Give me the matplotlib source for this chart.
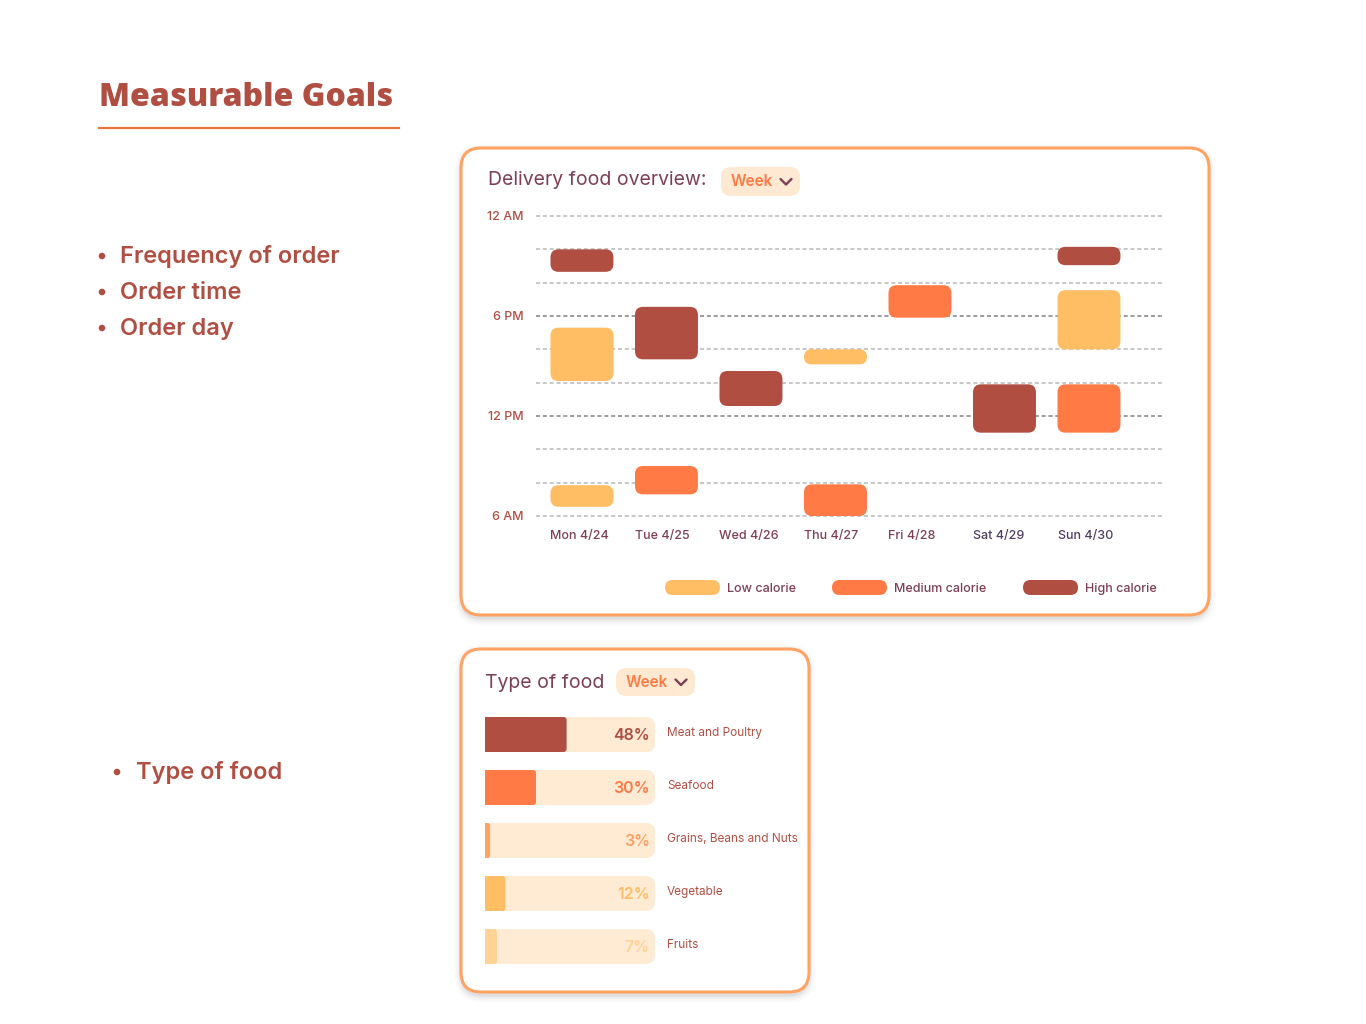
import matplotlib.pyplot as plt
from matplotlib.patches import FancyBboxPatch, Rectangle, Circle

W, H = 1366, 1024

RED = "#B04E42"
ORANGE = "#FF7A45"
YELLOW = "#FFBE64"
PLUM = "#7D3F55"
BORDER = "#FFA262"
PEACH = "#FFE9D2"

plt.rcParams['font.family'] = ['Inter', 'DejaVu Sans']

# left side text
goals = ["Frequency of order", "Order time", "Order day"]

# delivery food overview (hours of the day, 6 = 6 AM, 24 = midnight)
days = ["Mon 4/24", "Tue 4/25", "Wed 4/26", "Thu 4/27", "Fri 4/28", "Sat 4/29", "Sun 4/30"]
calorie_levels = ["Low calorie", "Medium calorie", "High calorie"]
calorie_colors = [YELLOW, ORANGE, RED]

order_day = [0, 0, 0, 1, 1, 2, 3, 3, 4, 5, 6, 6, 6]
order_level = [2, 0, 0, 2, 1, 2, 0, 1, 1, 2, 2, 0, 1]
order_start = [20.65, 14.1, 6.55, 15.4, 7.3, 12.6, 15.1, 6.0, 17.9, 11.0, 21.05, 16.0, 11.0]
order_end = [22.0, 17.3, 7.85, 18.55, 9.0, 14.7, 16.0, 7.9, 19.85, 13.9, 22.15, 19.55, 13.9]

hour_ticks = [6, 12, 18, 24]
hour_labels = ["6 AM", "12 PM", "6 PM", "12 AM"]

# type of food
food_types = ["Meat and Poultry", "Seafood", "Grains, Beans and Nuts", "Vegetable", "Fruits"]
food_share = [48, 30, 3, 12, 7]
food_colors = [RED, ORANGE, "#FFA262", YELLOW, "#FFD393"]


#pixel box (top-left origin) to figure fraction
def fig_rect(x0, y0, x1, y1):
    return [x0 / W, 1 - y1 / H, (x1 - x0) / W, (y1 - y0) / H]


#rounded rectangle in data coords, corner radius given in pixels
def round_box(ax, x, y, w, h, r_px, **kw):
    bb = ax.get_position()
    xl, yl = ax.get_xlim(), ax.get_ylim()
    sx = bb.width * W / abs(xl[1] - xl[0])
    sy = bb.height * H / abs(yl[1] - yl[0])
    r_px = min(r_px, abs(w) * sx / 2, abs(h) * sy / 2)
    p = FancyBboxPatch((x, y), w, h, boxstyle=f"round,pad=0,rounding_size={r_px / sx}",
                       mutation_aspect=sx / sy, **kw)
    ax.add_patch(p)
    return p


fig = plt.figure(figsize=(W / 100, H / 100), dpi=100)
bg = fig.add_axes([0, 0, 1, 1])
bg.set_xlim(0, W)
bg.set_ylim(H, 0)
bg.axis("off")


def card(x0, y0, x1, y1):
    for i, a in enumerate([0.05, 0.035, 0.025, 0.015]):
        g = 1.5 + i * 2
        bg.add_patch(FancyBboxPatch((x0 - g + 1, y0 - g + 3), x1 - x0 + 2 * g - 2, y1 - y0 + 2 * g,
                                    boxstyle=f"round,pad=0,rounding_size={20 + g}",
                                    fc="black", ec="none", alpha=a))
    bg.add_patch(FancyBboxPatch((x0, y0), x1 - x0, y1 - y0, boxstyle="round,pad=0,rounding_size=20",
                                fc="white", ec=BORDER, lw=2.2))


def week_pill(x0, y0, x1, y1, base):
    bg.add_patch(FancyBboxPatch((x0, y0), x1 - x0, y1 - y0, boxstyle="round,pad=0,rounding_size=10",
                                fc=PEACH, ec="none"))
    bg.text(x0 + 10, base, "Week", color=ORANGE, fontsize=11, fontweight="semibold", va="baseline")
    cx, cy = x1 - 14, (y0 + y1) / 2
    bg.plot([cx - 5.5, cx, cx + 5.5], [cy - 2.5, cy + 3, cy - 2.5], color=PLUM, lw=1.7,
            solid_capstyle="round", solid_joinstyle="round")


# heading
bg.text(99, 106, "Measurable Goals", fontsize=23, fontweight=800, color=RED,
        va="baseline", family=["Open Sans", "DejaVu Sans"])
bg.plot([99, 399], [128, 128], color="#F0743E", lw=1.6)

for k, g in enumerate(goals):
    bg.add_patch(Circle((102, 256 + 36 * k), 3.3, fc=RED, ec="none"))
    bg.text(120, 263 + 36 * k, g, fontsize=17, fontweight="semibold", color=RED, va="baseline")

bg.add_patch(Circle((117, 772), 3.3, fc=RED, ec="none"))
bg.text(136, 779, "Type of food", fontsize=17, fontweight="semibold", color=RED, va="baseline")

# cards
card(461, 148, 1209, 615)
bg.text(488, 185, "Delivery food overview:", fontsize=14, color=PLUM, va="baseline")
week_pill(721, 167, 800, 196, 186)

card(461, 649, 809, 992)
bg.text(485, 688, "Type of food", fontsize=14, color=PLUM, va="baseline")
week_pill(616, 668, 695, 696, 687)

# legend
leg_x = [665, 832, 1023]
for lx, name, col in zip(leg_x, calorie_levels, calorie_colors):
    bg.add_patch(FancyBboxPatch((lx, 580), 55, 15, boxstyle="round,pad=0,rounding_size=7.5",
                                fc=col, ec="none"))
    bg.text(lx + 62, 592, name, fontsize=9, fontweight="medium", color=PLUM, va="baseline")

# delivery schedule chart
ax = fig.add_axes(fig_rect(536, 216, 1163, 516))
ax.set_xlim(-0.544, 6.876)
ax.set_ylim(6, 24)
ax.patch.set_alpha(0)
for s in ax.spines.values():
    s.set_visible(False)

for hr in range(6, 25, 2):
    major = hr in (12, 18)
    ax.axhline(hr, color="#8A8A8A" if major else "#BDBDBD", lw=1.2,
               ls=(0, (2.4, 1.7)), zorder=1, clip_on=False)

bw = 0.745
for d, lv, s, e in zip(order_day, order_level, order_start, order_end):
    round_box(ax, d - bw / 2, s, bw, e - s, 8, fc=calorie_colors[lv], ec="none", zorder=3)

ax.set_yticks(hour_ticks, hour_labels)
ax.tick_params(axis="y", length=0, pad=9, labelsize=9, labelcolor=RED)
ax.set_xticks([i - bw / 2 for i in range(len(days))], days)
ax.tick_params(axis="x", length=0, pad=10, labelsize=9, labelcolor=PLUM)
for i, lbl in enumerate(ax.get_xticklabels()):
    lbl.set_ha("left")
    lbl.set_fontweight("medium")
    if i >= 5:
        lbl.set_color("#4F3E63")
for lbl in ax.get_yticklabels():
    lbl.set_fontweight("medium")

# type of food bars
ax2 = fig.add_axes(fig_rect(485, 708, 655, 973))
ax2.set_xlim(0, 100)
ax2.set_ylim(4.5, -0.5)
ax2.axis("off")

bh = 0.66
for i, (name, v, c) in enumerate(zip(food_types, food_share, food_colors)):
    round_box(ax2, 0, i - bh / 2, 100, bh, 9, fc="#FFEAD3", ec="none")
    ax2.add_patch(Rectangle((0, i - bh / 2), 10, bh, fc="#FFEAD3", ec="none"))
    round_box(ax2, 0, i - bh / 2, v, bh, 3, fc=c, ec="none")
    ax2.add_patch(Rectangle((0, i - bh / 2), v / 2, bh, fc=c, ec="none"))
    ax2.text(97, i + 0.02, f"{v}%", ha="right", va="center", color=c, fontsize=11.5, fontweight="semibold")
    ax2.text(107, i - 0.02, name, ha="left", va="center", color=RED, fontsize=8.5, clip_on=False)

fig.savefig("out.png", dpi=100)
